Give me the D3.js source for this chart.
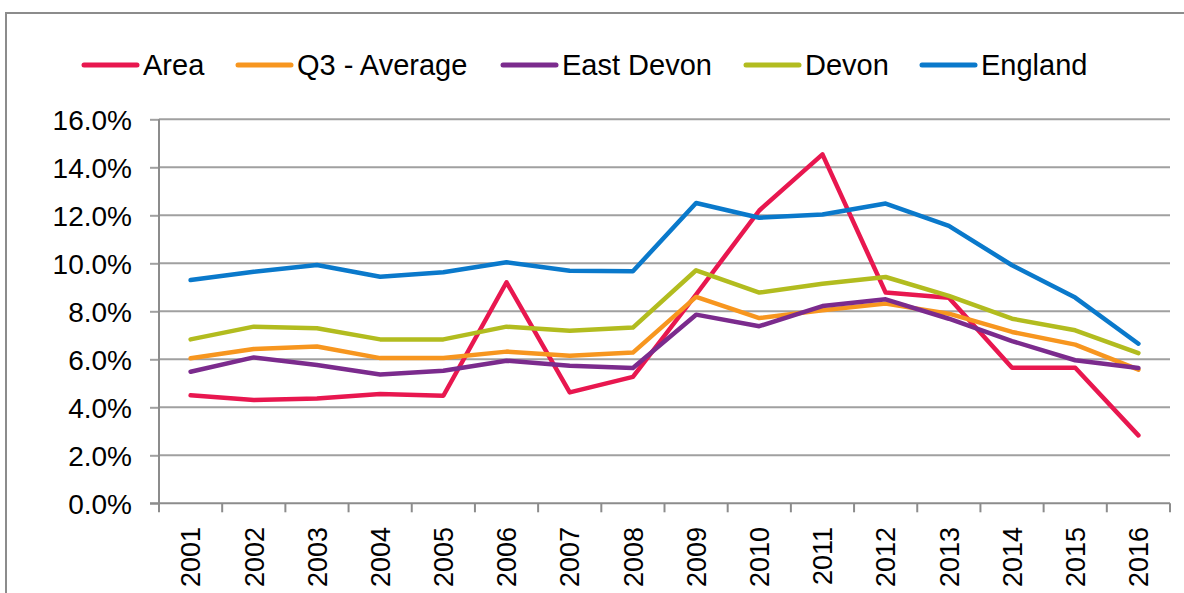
<!DOCTYPE html>
<html>
<head>
<meta charset="utf-8">
<script src="https://cdn.jsdelivr.net/npm/d3@7"></script>
<style>
  body { margin: 0; background: #fff; }
  svg { display: block; font-family: "Liberation Sans", Arial, sans-serif; }
</style>
</head>
<body>
<div id="chart"></div>
<script>
// Data (percent)
const years = ["2001","2002","2003","2004","2005","2006","2007","2008",
               "2009","2010","2011","2012","2013","2014","2015","2016"];
const area      = [4.5, 4.3, 4.37, 4.55, 4.48, 9.21, 4.62, 5.27, 8.7, 12.2, 14.54, 8.78, 8.56, 5.65, 5.65, 2.83];
const q3Average = [6.04, 6.43, 6.53, 6.05, 6.05, 6.32, 6.15, 6.28, 8.6, 7.72, 8.04, 8.32, 7.9, 7.14, 6.61, 5.57];
const eastDevon = [5.48, 6.08, 5.76, 5.37, 5.52, 5.94, 5.73, 5.64, 7.86, 7.38, 8.22, 8.5, 7.69, 6.76, 5.96, 5.64];
const devon     = [6.83, 7.36, 7.29, 6.83, 6.83, 7.36, 7.19, 7.32, 9.71, 8.78, 9.15, 9.43, 8.64, 7.69, 7.21, 6.26];
const england   = [9.3, 9.65, 9.93, 9.44, 9.63, 10.04, 9.69, 9.67, 12.51, 11.9, 12.03, 12.49, 11.56, 9.92, 8.57, 6.65];
const yTicks = [0, 2, 4, 6, 8, 10, 12, 14, 16];

const series = [
  { name: "Area",         values: area,      color: "#E8174F" },
  { name: "Q3 - Average", values: q3Average, color: "#F7961F" },
  { name: "East Devon",   values: eastDevon, color: "#7B2B8D" },
  { name: "Devon",        values: devon,     color: "#B2BC1F" },
  { name: "England",      values: england,   color: "#0A79CB" }
];

const width = 1184;
const height = 593;
const margin = { top: 119.3, right: 14, bottom: 89.7, left: 159 };

const svg = d3.select("#chart")
  .append("svg")
    .attr("width", width)
    .attr("height", height);

// Outer frame
svg.append("rect")
    .attr("x", 6)
    .attr("y", 13)
    .attr("width", width + 20)
    .attr("height", height + 20)
    .attr("fill", "none")
    .attr("stroke", "#8c8c8c")
    .attr("stroke-width", 2);

// ------ Scales ------ //
const x = d3.scaleBand()
  .domain(years)
  .range([margin.left, width - margin.right]);

const y = d3.scaleLinear()
  .domain([0, 16])
  .range([height - margin.bottom, margin.top]);

// ------ Gridlines and y axis ------ //
const yAxis = svg.append("g")
    .attr("transform", `translate(${margin.left},0)`)
    .call(d3.axisLeft(y)
      .tickValues(yTicks)
      .tickSize(9)
      .tickFormat(d => d3.format(".1f")(d) + "%"));
yAxis.select(".domain").remove();
yAxis.selectAll(".tick line")
    .attr("stroke", "#a0a0a0")
    .attr("stroke-width", 2);
yAxis.selectAll(".tick text")
    .attr("x", -27)
    .attr("dy", "0.36em")
    .attr("fill", "#000")
    .attr("font-size", 28)
    .attr("font-family", "\"Liberation Sans\", Arial, sans-serif");

svg.append("g")
  .selectAll("line")
  .data(yTicks.filter(d => d > 0))
  .join("line")
    .attr("x1", margin.left)
    .attr("x2", width - margin.right)
    .attr("y1", d => y(d))
    .attr("y2", d => y(d))
    .attr("stroke", "#a0a0a0")
    .attr("stroke-width", 2);

// Axis lines
svg.append("line")
    .attr("x1", margin.left).attr("x2", margin.left)
    .attr("y1", y(16)).attr("y2", y(0))
    .attr("stroke", "#8c8c8c").attr("stroke-width", 2);
svg.append("line")
    .attr("x1", margin.left - 9).attr("x2", width - margin.right)
    .attr("y1", y(0)).attr("y2", y(0))
    .attr("stroke", "#8c8c8c").attr("stroke-width", 2);

// x ticks at category boundaries
const boundaries = years.map(d => x(d)).concat([x(years[years.length - 1]) + x.bandwidth()]);
svg.append("g")
  .selectAll("line")
  .data(boundaries)
  .join("line")
    .attr("x1", d => d).attr("x2", d => d)
    .attr("y1", y(0)).attr("y2", y(0) + 9)
    .attr("stroke", "#8c8c8c").attr("stroke-width", 2);

// Year labels, rotated
svg.append("g")
  .selectAll("text")
  .data(years)
  .join("text")
    .attr("transform", d => `translate(${x(d) + x.bandwidth() / 2}, 527) rotate(-90)`)
    .attr("text-anchor", "end")
    .attr("dy", "0.36em")
    .attr("font-size", 27)
    .attr("fill", "#000")
    .text(d => d);

// ------ Lines ------ //
const line = d3.line()
  .x((d, i) => x(years[i]) + x.bandwidth() / 2)
  .y(d => y(d));

svg.append("g")
  .selectAll("path")
  .data(series)
  .join("path")
    .attr("d", d => line(d.values))
    .attr("fill", "none")
    .attr("stroke", d => d.color)
    .attr("stroke-width", 4.5)
    .attr("stroke-linejoin", "round")
    .attr("stroke-linecap", "round");

// ------ Legend ------ //
const legendX = [84, 238, 503, 746, 922];
const legend = svg.append("g")
  .selectAll("g")
  .data(series)
  .join("g")
    .attr("transform", (d, i) => `translate(${legendX[i]}, 65)`);
legend.append("line")
    .attr("x1", 0).attr("x2", 53)
    .attr("stroke", d => d.color)
    .attr("stroke-width", 5)
    .attr("stroke-linecap", "round");
legend.append("text")
    .attr("x", 59)
    .attr("y", 10)
    .attr("font-size", 29)
    .attr("fill", "#000")
    .text(d => d.name);
</script>
</body>
</html>
